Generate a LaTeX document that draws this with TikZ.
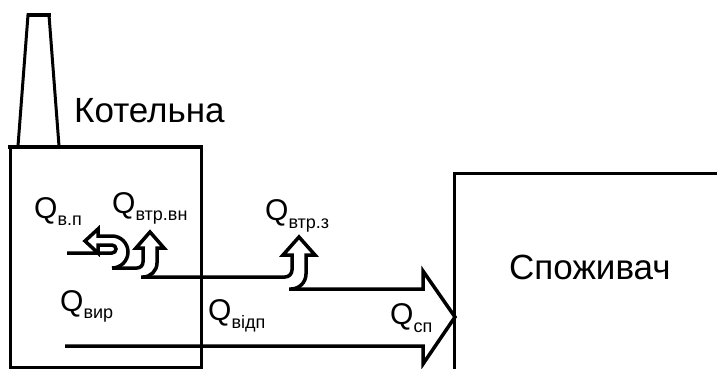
\documentclass[tikz,border=0pt]{standalone}
\usepackage{fontspec}
\setmainfont{Liberation Sans}
\begin{document}
\begin{tikzpicture}[x=1pt,y=-1pt,
  flow/.style={line width=3.5pt,line join=miter,miter limit=10},
  boxline/.style={line width=3pt},
  qlab/.style={anchor=base west,inner sep=0pt,font=\fontsize{30}{30}\selectfont},
  bigtext/.style={anchor=base west,inner sep=0pt,font=\fontsize{35}{35}\selectfont}]
\useasboundingbox (0,0) rectangle (717,369);
% chimney
\draw[boxline,line join=miter] (18,146) -- (28,15) -- (49,15) -- (59,146);
\draw[line width=4.5pt] (26.5,15) -- (50.5,15);
% boiler
\draw[boxline] (10,147) rectangle (201,367);
\draw[line width=4.5pt] (8,147) -- (203,147);
\node[bigtext] (kot) at (74,122) {Котельна};
% consumer
\draw[boxline] (454,372) -- (454,173) -- (720,173);
\node[bigtext] (spo) at (509,279) {Споживач};
% Q_vp u-turn arrow
\draw[flow] (67,253) -- (112,253) .. controls (114.2,253) and (116,251.2) .. (116,249)
  .. controls (116,246.8) and (114.2,245) .. (112,245) -- (98,245) -- (98,253) -- (85,241)
  -- (98,229) -- (98,236) -- (112,236) .. controls (120.8,236) and (128,243.2) .. (128,252)
  .. controls (128,260.8) and (120.8,268) .. (112,268);
% Q_vtr.vn arrow
\draw[flow] (112,268) -- (137,268) .. controls (140.3,268) and (143,265.3) .. (143,262)
  -- (143,248) -- (136,248) -- (150,232) -- (164,248) -- (157,248) -- (157,263)
  .. controls (157,270.7) and (150.7,277) .. (143,277);
% Q_vtr.z arrow
\draw[flow] (141,277) -- (285,277) .. controls (288.85,277) and (292,273.85) .. (292,270)
  -- (292,255) -- (283,255) -- (299,237) -- (315,255) -- (306,255) -- (306,274)
  .. controls (306,282.25) and (299.25,289) .. (291,289);
% main arrow
\draw[flow] (289,289) -- (423,289) -- (423,271) -- (455,317) -- (423,364) -- (423,346) -- (65,346);
% labels
\node[qlab] (qvp) at (34,218) {Q{\fontsize{18}{18}\selectfont\raisebox{-7pt}{в.п}}};
\node[qlab] (qvtrvn) at (112,213) {Q{\fontsize{18}{18}\selectfont\raisebox{-7pt}{втр.вн}}};
\node[qlab] (qvyr) at (60,311) {Q{\fontsize{18}{18}\selectfont\raisebox{-7pt}{вир}}};
\node[qlab] (qvidp) at (208,320) {Q{\fontsize{18}{18}\selectfont\raisebox{-8pt}{відп}}};
\node[qlab] (qvtrz) at (265,220) {Q{\fontsize{18}{18}\selectfont\raisebox{-8pt}{втр.з}}};
\node[qlab] (qsp) at (390,324) {Q{\fontsize{18}{18}\selectfont\raisebox{-8pt}{сп}}};
\end{tikzpicture}
\end{document}
